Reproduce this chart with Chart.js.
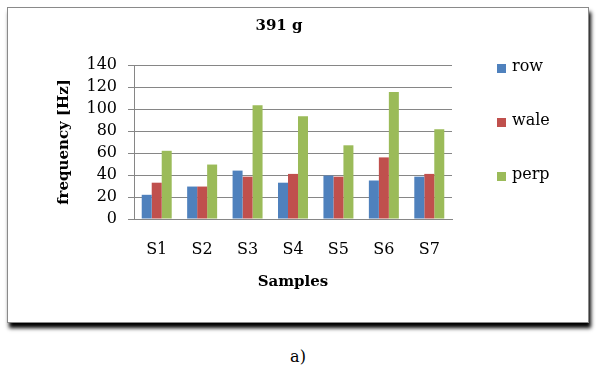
<!DOCTYPE html>
<html lang="en">
<head>
  <meta charset="UTF-8">
  <title>391 g</title>
  <script src="https://cdn.jsdelivr.net/npm/chart.js"></script>
  <style>
    body {
      margin: 0;
      background: #fff;
      font-family: "DejaVu Serif", serif;
      width: 596px;
      height: 371px;
      position: relative;
      overflow: hidden;
    }
    .frame {
      position: absolute;
      left: 7px;
      top: 7px;
      width: 580px;
      height: 314px;
      border: 1px solid #8a8a8a;
      background: #fff;
      box-shadow: 2px 5px 4px #000;
    }
    .frame canvas {
      position: absolute;
      left: 0;
      top: 0;
    }
    .title {
      position: absolute;
      left: 171px;
      top: 9px;
      width: 200px;
      text-align: center;
      font-weight: bold;
      font-size: 15px;
      line-height: 17px;
    }
    .legend {
      position: absolute;
      left: 489px;
      top: 49px;
      list-style: none;
      margin: 0;
      padding: 0;
    }
    .legend li {
      height: 54px;
      font-size: 16px;
      line-height: 18px;
      display: flex;
      align-items: flex-start;
    }
    .legend span.box {
      display: inline-block;
      width: 9px;
      height: 9px;
      margin: 7px 6px 0 0;
    }
    .caption {
      position: absolute;
      left: 198px;
      top: 348px;
      width: 200px;
      text-align: center;
      font-size: 16px;
      line-height: 17px;
    }
  </style>
</head>
<body>
  <div class="frame">
    <canvas id="chart" width="580" height="314"></canvas>
    <div class="title">391 g</div>
    <ul class="legend" id="legend"></ul>
  </div>
  <div class="caption">a)</div>
  <script>
    const samples = ['S1', 'S2', 'S3', 'S4', 'S5', 'S6', 'S7'];
    const row = [22, 29.5, 44, 33, 39.5, 35, 38.5];
    const wale = [33, 29.5, 38.5, 41, 38.5, 56, 41];
    const perp = [62, 49.5, 103.5, 93.5, 67, 115.5, 81.5];
    const yTicks = [0, 20, 40, 60, 80, 100, 120, 140];

    const serif = '"DejaVu Serif", serif';
    const gridColor = '#868686';

    const chart = new Chart(document.getElementById('chart').getContext('2d'), {
      type: 'bar',
      data: {
        labels: samples,
        datasets: [
          { label: 'row', data: row, backgroundColor: '#4F81BD' },
          { label: 'wale', data: wale, backgroundColor: '#C0504D' },
          { label: 'perp', data: perp, backgroundColor: '#9BBB59' }
        ]
      },
      options: {
        responsive: false,
        animation: false,
        events: [],
        layout: {
          padding: { left: 20, right: 136, top: 57, bottom: 31 }
        },
        datasets: {
          bar: { categoryPercentage: 0.66, barPercentage: 1 }
        },
        plugins: {
          legend: { display: false },
          tooltip: { enabled: false }
        },
        scales: {
          x: {
            afterFit: scale => { scale.height = 72; },
            grid: { display: false, drawTicks: false },
            border: { display: true, color: gridColor, width: 1 },
            ticks: {
              color: '#000',
              padding: 21,
              font: { family: serif, size: 16 }
            },
            title: {
              display: true,
              text: 'Samples',
              color: '#000',
              padding: { top: 16, bottom: 0 },
              font: { family: serif, size: 15, weight: 'bold' }
            }
          },
          y: {
            min: yTicks[0],
            max: yTicks[yTicks.length - 1],
            afterFit: scale => { scale.width = 106; },
            afterBuildTicks: scale => { scale.ticks = yTicks.map(v => ({ value: v })); },
            grid: { color: gridColor, lineWidth: 1, tickLength: 6 },
            border: { display: true, color: gridColor, width: 1 },
            ticks: {
              autoSkip: false,
              color: '#000',
              padding: 11,
              font: { family: serif, size: 16 }
            },
            title: {
              display: true,
              text: 'frequency [Hz]',
              color: '#000',
              padding: { top: 27, bottom: 0 },
              font: { family: serif, size: 15, weight: 'bold' }
            }
          }
        }
      }
    });

    document.getElementById('legend').innerHTML = chart.data.datasets.map(ds =>
      `<li><span class="box" style="background:${ds.backgroundColor}"></span>${ds.label}</li>`
    ).join('');
  </script>
</body>
</html>
